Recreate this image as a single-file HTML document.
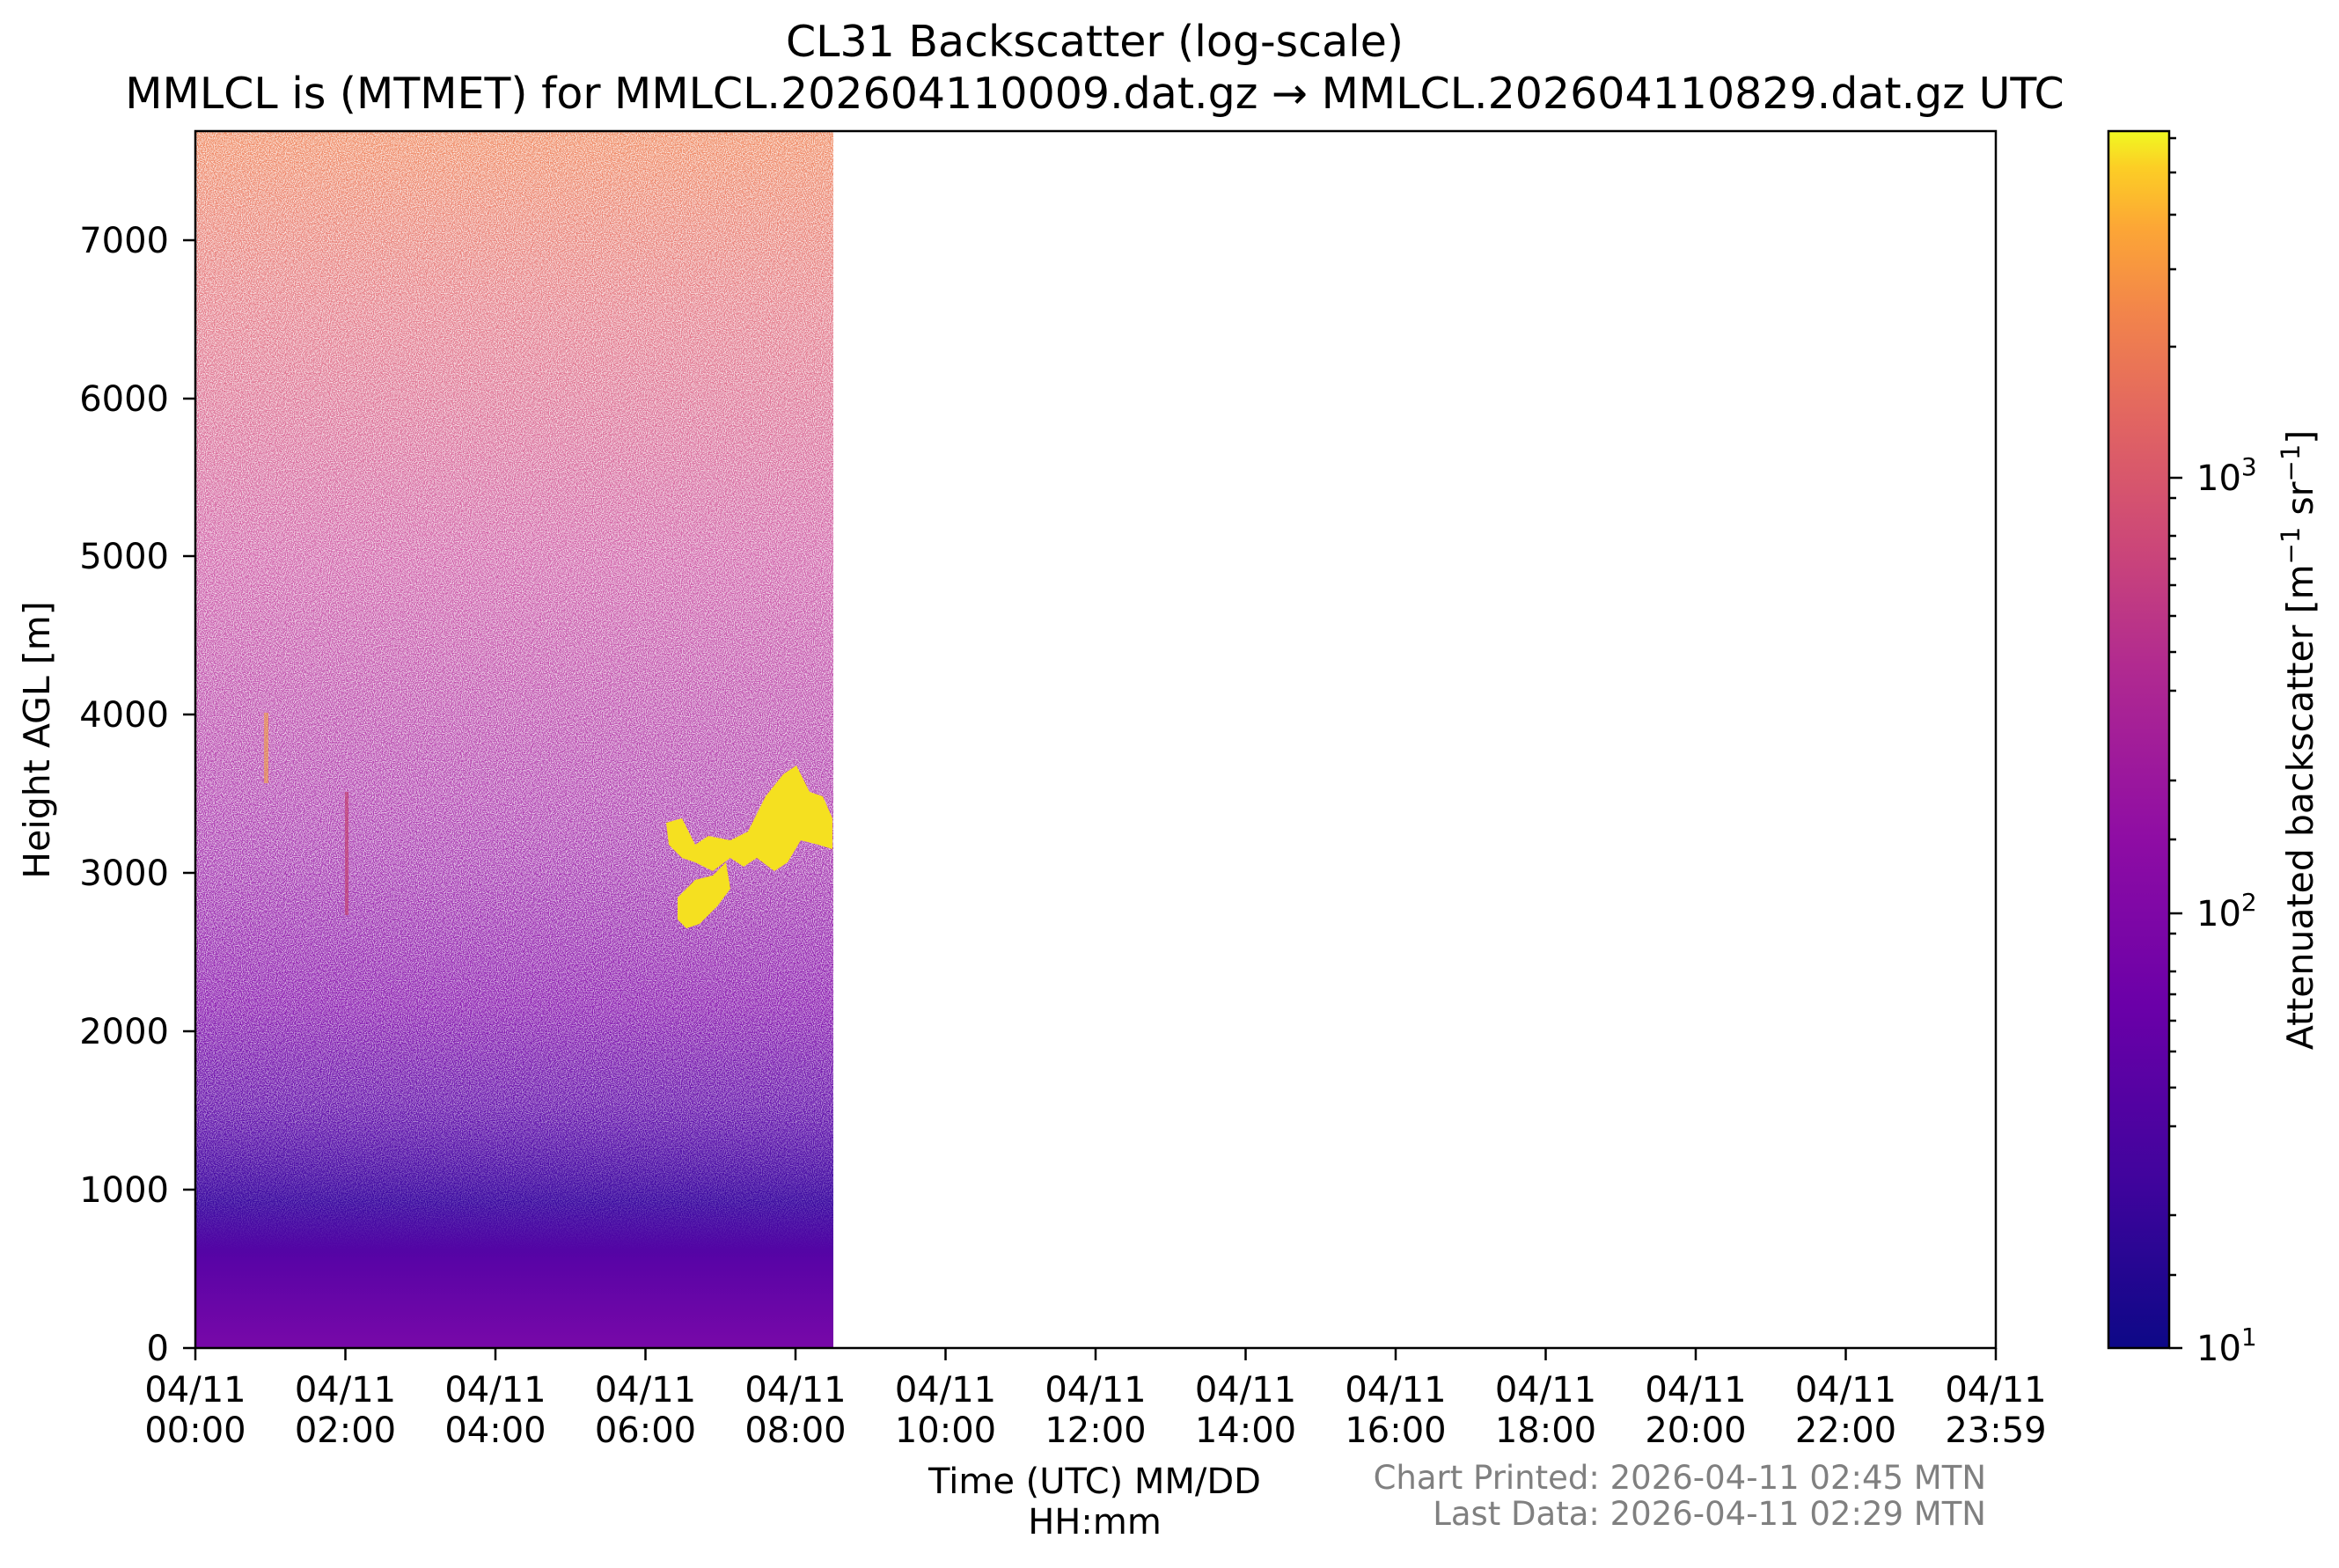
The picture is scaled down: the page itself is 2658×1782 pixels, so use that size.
<!DOCTYPE html>
<html><head><meta charset="utf-8"><style>
html,body{margin:0;padding:0;background:#fff}
svg{display:block}
text{font-family:"DejaVu Sans","Liberation Sans",sans-serif;fill:#000}
</style></head><body>
<svg width="2658" height="1782" viewBox="0 0 2658 1782" xmlns="http://www.w3.org/2000/svg">
<defs>
<linearGradient id="dg" x1="0" y1="0" x2="0" y2="1">
<stop offset="0" stop-color="#f08a60"/>
<stop offset="0.15" stop-color="#e47a88"/>
<stop offset="0.35" stop-color="#d060a8"/>
<stop offset="0.55" stop-color="#b040b0"/>
<stop offset="0.72" stop-color="#8a1cb0"/>
<stop offset="0.82" stop-color="#5c10aa"/>
<stop offset="0.88" stop-color="#3a08a0"/>
<stop offset="0.93" stop-color="#5a04a6"/>
<stop offset="1" stop-color="#7808a8"/>
</linearGradient>
<linearGradient id="cb" x1="0" y1="1" x2="0" y2="0">
<stop offset="0" stop-color="#0d0887"/>
<stop offset="0.14" stop-color="#41049d"/>
<stop offset="0.28" stop-color="#6a00a8"/>
<stop offset="0.42" stop-color="#8f0da4"/>
<stop offset="0.56" stop-color="#b12a90"/>
<stop offset="0.66" stop-color="#cc4778"/>
<stop offset="0.76" stop-color="#e16462"/>
<stop offset="0.85" stop-color="#f2844b"/>
<stop offset="0.92" stop-color="#fca636"/>
<stop offset="0.97" stop-color="#fcce25"/>
<stop offset="1" stop-color="#f0f921"/>
</linearGradient>
<filter id="nz" x="0" y="0" width="1" height="1">
<feTurbulence type="fractalNoise" baseFrequency="0.9" numOctaves="1" seed="3"/>
<feColorMatrix type="matrix" values="0 0 0 0 1  0 0 0 0 1  0 0 0 0 1  4 0 0 0 -1.6"/>
</filter>
<linearGradient id="fade" x1="0" y1="0" x2="0" y2="1">
<stop offset="0" stop-color="#fff" stop-opacity="0.8"/>
<stop offset="0.6" stop-color="#fff" stop-opacity="0.75"/>
<stop offset="0.8" stop-color="#fff" stop-opacity="0.55"/>
<stop offset="0.88" stop-color="#fff" stop-opacity="0.25"/>
<stop offset="0.92" stop-color="#fff" stop-opacity="0"/>
</linearGradient>
<mask id="fm"><rect x="222" y="149" width="725" height="1383" fill="url(#fade)"/></mask>
</defs>

<text x="1244" y="64" font-size="49" text-anchor="middle">CL31 Backscatter (log-scale)</text>
<text x="1244" y="123" font-size="49" text-anchor="middle">MMLCL is (MTMET) for MMLCL.202604110009.dat.gz → MMLCL.202604110829.dat.gz UTC</text>

<rect x="222" y="149" width="725" height="1383" fill="url(#dg)"/>
<rect x="222" y="149" width="725" height="1383" filter="url(#nz)" mask="url(#fm)"/>
<rect x="392" y="900" width="4" height="140" fill="#c04070" opacity="0.7"/>
<rect x="300" y="810" width="5" height="80" fill="#f0a040" opacity="0.6"/>
<g fill="#f5e020">
<polygon points="757,935 775,930 790,960 805,950 830,955 850,945 870,905 890,880 905,870 920,900 935,905 946,930 946,965 930,960 910,955 895,980 880,990 860,975 845,985 830,975 810,990 790,980 775,975 760,960"/>
<polygon points="770,1020 790,1000 810,995 825,980 830,1010 815,1030 795,1050 780,1055 770,1045"/>
</g>

<rect x="222" y="149" width="2046" height="1383" fill="none" stroke="#000" stroke-width="2.5"/>

<g font-size="40" text-anchor="end">
<text x="192" y="1546">0</text><text x="192" y="1366">1000</text><text x="192" y="1186">2000</text><text x="192" y="1006">3000</text><text x="192" y="826">4000</text><text x="192" y="646">5000</text><text x="192" y="467">6000</text><text x="192" y="287">7000</text>
</g>
<g stroke="#000" stroke-width="2.5">
<line x1="208" y1="1532" x2="222" y2="1532"/><line x1="208" y1="1352" x2="222" y2="1352"/><line x1="208" y1="1172" x2="222" y2="1172"/><line x1="208" y1="992" x2="222" y2="992"/><line x1="208" y1="812" x2="222" y2="812"/><line x1="208" y1="632" x2="222" y2="632"/><line x1="208" y1="453" x2="222" y2="453"/><line x1="208" y1="273" x2="222" y2="273"/>
</g>
<text transform="translate(56,841) rotate(-90)" font-size="41" text-anchor="middle">Height AGL [m]</text>

<g stroke="#000" stroke-width="2.5">
<line x1="222" y1="1532" x2="222" y2="1546"/><line x1="392.5" y1="1532" x2="392.5" y2="1546"/><line x1="563" y1="1532" x2="563" y2="1546"/><line x1="733.5" y1="1532" x2="733.5" y2="1546"/><line x1="904" y1="1532" x2="904" y2="1546"/><line x1="1074.5" y1="1532" x2="1074.5" y2="1546"/><line x1="1245" y1="1532" x2="1245" y2="1546"/><line x1="1415.5" y1="1532" x2="1415.5" y2="1546"/><line x1="1586" y1="1532" x2="1586" y2="1546"/><line x1="1756.5" y1="1532" x2="1756.5" y2="1546"/><line x1="1927" y1="1532" x2="1927" y2="1546"/><line x1="2097.5" y1="1532" x2="2097.5" y2="1546"/><line x1="2268" y1="1532" x2="2268" y2="1546"/>
</g>
<g font-size="40" text-anchor="middle">
<text x="222" y="1593">04/11</text><text x="222" y="1639">00:00</text>
<text x="392.5" y="1593">04/11</text><text x="392.5" y="1639">02:00</text>
<text x="563" y="1593">04/11</text><text x="563" y="1639">04:00</text>
<text x="733.5" y="1593">04/11</text><text x="733.5" y="1639">06:00</text>
<text x="904" y="1593">04/11</text><text x="904" y="1639">08:00</text>
<text x="1074.5" y="1593">04/11</text><text x="1074.5" y="1639">10:00</text>
<text x="1245" y="1593">04/11</text><text x="1245" y="1639">12:00</text>
<text x="1415.5" y="1593">04/11</text><text x="1415.5" y="1639">14:00</text>
<text x="1586" y="1593">04/11</text><text x="1586" y="1639">16:00</text>
<text x="1756.5" y="1593">04/11</text><text x="1756.5" y="1639">18:00</text>
<text x="1927" y="1593">04/11</text><text x="1927" y="1639">20:00</text>
<text x="2097.5" y="1593">04/11</text><text x="2097.5" y="1639">22:00</text>
<text x="2268" y="1593">04/11</text><text x="2268" y="1639">23:59</text>
</g>
<text x="1244" y="1697" font-size="40" text-anchor="middle">Time (UTC) MM/DD</text>
<text x="1244" y="1743" font-size="40" text-anchor="middle">HH:mm</text>
<text x="2257" y="1692" font-size="37" text-anchor="end" style="fill:#808080">Chart Printed: 2026-04-11 02:45 MTN</text>
<text x="2257" y="1733" font-size="37" text-anchor="end" style="fill:#808080">Last Data: 2026-04-11 02:29 MTN</text>

<rect x="2396" y="149" width="69" height="1383" fill="url(#cb)" stroke="#000" stroke-width="2.5"/>
<g stroke="#000" stroke-width="2.5">
<line x1="2465" y1="1532" x2="2480" y2="1532"/><line x1="2465" y1="1038" x2="2480" y2="1038"/><line x1="2465" y1="543" x2="2480" y2="543"/>
<line x1="2465" y1="1449" x2="2473" y2="1449"/><line x1="2465" y1="1381" x2="2473" y2="1381"/><line x1="2465" y1="1280" x2="2473" y2="1280"/><line x1="2465" y1="1236" x2="2473" y2="1236"/><line x1="2465" y1="1195" x2="2473" y2="1195"/><line x1="2465" y1="1160" x2="2473" y2="1160"/><line x1="2465" y1="1130" x2="2473" y2="1130"/><line x1="2465" y1="1104" x2="2473" y2="1104"/><line x1="2465" y1="1061" x2="2473" y2="1061"/>
<line x1="2465" y1="954" x2="2473" y2="954"/><line x1="2465" y1="887" x2="2473" y2="887"/><line x1="2465" y1="785" x2="2473" y2="785"/><line x1="2465" y1="741" x2="2473" y2="741"/><line x1="2465" y1="700" x2="2473" y2="700"/><line x1="2465" y1="665" x2="2473" y2="665"/><line x1="2465" y1="635" x2="2473" y2="635"/><line x1="2465" y1="609" x2="2473" y2="609"/><line x1="2465" y1="566" x2="2473" y2="566"/>
<line x1="2465" y1="394" x2="2473" y2="394"/><line x1="2465" y1="306" x2="2473" y2="306"/><line x1="2465" y1="244" x2="2473" y2="244"/><line x1="2465" y1="196" x2="2473" y2="196"/><line x1="2465" y1="157" x2="2473" y2="157"/>
</g>
<g font-size="40">
<text x="2496" y="1546">10<tspan dy="-17" font-size="28">1</tspan></text>
<text x="2496" y="1052">10<tspan dy="-17" font-size="28">2</tspan></text>
<text x="2496" y="557">10<tspan dy="-17" font-size="28">3</tspan></text>
</g>
<text transform="translate(2628,841) rotate(-90)" font-size="41" text-anchor="middle">Attenuated backscatter [m<tspan dy="-15" font-size="29">−1</tspan><tspan dy="15"> sr</tspan><tspan dy="-15" font-size="29">−1</tspan><tspan dy="15">]</tspan></text>
</svg>
</body></html>
